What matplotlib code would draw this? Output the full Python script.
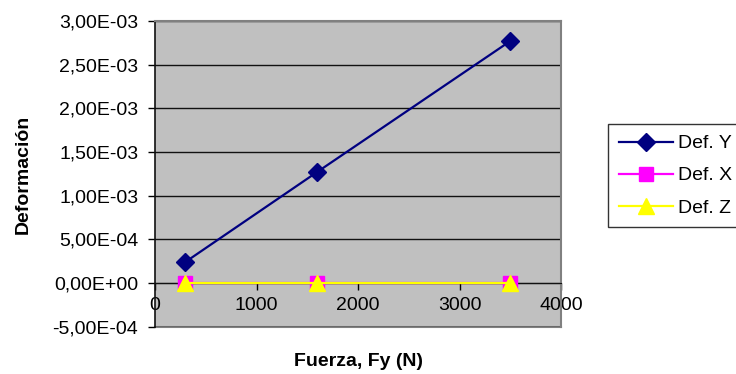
import matplotlib
matplotlib.use("Agg")
import matplotlib.pyplot as plt
from matplotlib.ticker import FuncFormatter, MultipleLocator

plt.rcParams['font.family'] = ['Liberation Sans', 'DejaVu Sans']

# load applied (N) and measured deformation per axis
fuerza = [300, 1600, 3500]
def_y = [2.40e-4, 1.272e-3, 2.77e-3]
def_x = [0.0, 0.0, 0.0]
def_z = [0.0, 0.0, 0.0]

FS = 14

fig = plt.figure(figsize=(7.36, 3.74), dpi=100)
ax = fig.add_axes([155 / 736, 1 - 326.5 / 374, 406 / 736, 305.5 / 374])
ax.set_facecolor('#C0C0C0')

ax.plot(fuerza, def_y, color='#000080', lw=1.6, marker='D', ms=9,
        label='Def. Y', zorder=4)
ax.plot(fuerza, def_x, color='#FF00FF', lw=1.6, marker='s', ms=10,
        label='Def. X', zorder=5)
ax.plot(fuerza, def_z, color='#FFFF00', lw=1.6, marker='^', ms=11,
        label='Def. Z', zorder=6)

ax.set_xlim(0, 4000)
ax.set_ylim(-5e-4, 3e-3)
ax.xaxis.set_major_locator(MultipleLocator(1000))
ax.yaxis.set_major_locator(MultipleLocator(5e-4))
ax.yaxis.set_major_formatter(FuncFormatter(lambda v, p: f"{v:.2E}".replace('.', ',')))

ax.grid(axis='y', color='#111111', lw=1.0, zorder=1)
ax.set_axisbelow(True)

# x axis crosses at y = 0, frame of the plot area in gray
ax.spines['bottom'].set_position(('data', 0))
ax.spines['bottom'].set_color('#111111')
ax.spines['left'].set_color('#111111')
ax.spines['left'].set_linewidth(1.2)
for s in ['top', 'right']:
    ax.spines[s].set_color('#808080')
    ax.spines[s].set_linewidth(1.5)
ax.plot([0, 1], [0, 0], transform=ax.transAxes, color='#808080', lw=1.5,
        clip_on=False, zorder=0)

ax.tick_params(axis='both', direction='out', length=5, width=1,
               labelsize=FS, colors='black')
ax.tick_params(axis='x', pad=5)
ax.tick_params(axis='y', pad=7)

fig.text(358 / 736, 1 - 362 / 374, 'Fuerza, Fy (N)', fontsize=FS,
         fontweight='bold', ha='center', va='center')
fig.text(23 / 736, 1 - 174 / 374, 'Deformación', fontsize=FS,
         fontweight='bold', ha='center', va='center', rotation=90)

leg = fig.legend(loc='upper left', bbox_to_anchor=(608 / 736, 1 - 124 / 374),
                 fontsize=FS, frameon=True, fancybox=False, edgecolor='black',
                 handlelength=2.8, handletextpad=0.25, labelspacing=0.75,
                 borderpad=0.55, borderaxespad=0)
leg.get_frame().set_linewidth(1.0)

fig.savefig('out.png', dpi=100)
